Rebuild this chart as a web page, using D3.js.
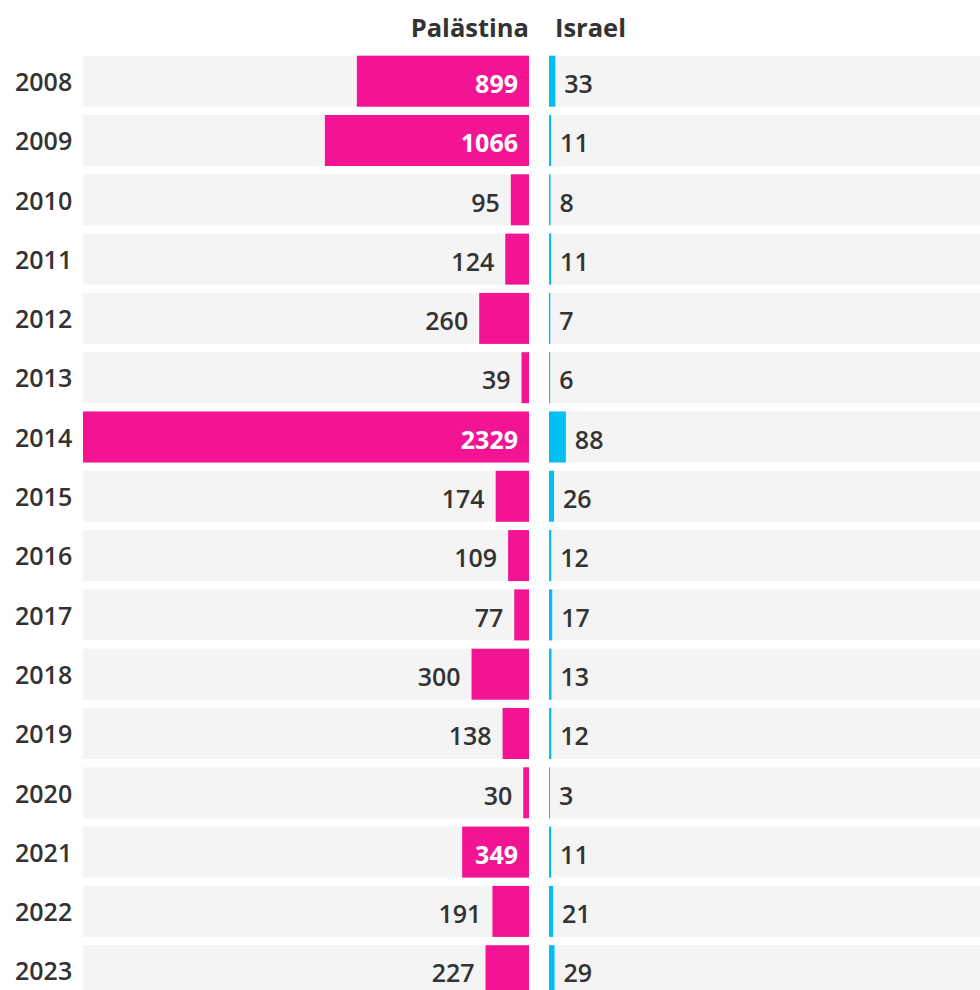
<!DOCTYPE html>
<html>
<head>
<meta charset="utf-8">
<script src="https://cdn.jsdelivr.net/npm/d3@7"></script>
<style>
  body { margin: 0; background: #fff; }
  text { font-family: "Open Sans", sans-serif; }
</style>
</head>
<body>
<div id="chart"></div>
<script>
const years = ["2008", "2009", "2010", "2011", "2012", "2013", "2014", "2015",
  "2016", "2017", "2018", "2019", "2020", "2021", "2022", "2023"];
const palestine = [899, 1066, 95, 124, 260, 39, 2329, 174, 109, 77, 300, 138, 30, 349, 191, 227];
const israel = [33, 11, 8, 11, 7, 6, 88, 26, 12, 17, 13, 12, 3, 11, 21, 29];
const headers = ["Palästina", "Israel"];

const width = 980,
  height = 990,
  centerLeft = 529,
  centerRight = 549,
  leftEdge = 83,
  firstRowY = 55.7,
  step = 59.3,
  band = 51,
  pad = 11,
  fontSize = 25;

const pink = "#f21493",
  blue = "#00bff2",
  textColor = "#333";

const svg = d3.select("#chart")
  .append("svg")
  .attr("width", width)
  .attr("height", height);

// range sized so that step = 59.3 and band = 51
const y = d3.scaleBand()
  .domain(years)
  .range([firstRowY, firstRowY + (years.length - 1) * step + band])
  .paddingInner((step - band) / step)
  .paddingOuter(0);

// same units on both sides
const x = d3.scaleLinear()
  .domain([0, d3.max(palestine)])
  .range([0, centerLeft - leftEdge]);

const rows = years.map((yr, i) => ({ year: yr, pal: palestine[i], isr: israel[i] }));

// grey row backgrounds
svg.append("g")
  .attr("fill", "#f4f4f4")
  .selectAll("rect")
  .data(rows)
  .join("rect")
  .attr("x", leftEdge)
  .attr("y", d => y(d.year))
  .attr("width", centerLeft - leftEdge)
  .attr("height", y.bandwidth());

svg.append("g")
  .attr("fill", "#f4f4f4")
  .selectAll("rect")
  .data(rows)
  .join("rect")
  .attr("x", centerRight)
  .attr("y", d => y(d.year))
  .attr("width", width - centerRight)
  .attr("height", y.bandwidth());

// headers
svg.append("text")
  .attr("x", centerLeft)
  .attr("y", 37)
  .attr("text-anchor", "end")
  .attr("font-size", 25.5)
  .attr("font-weight", 700)
  .attr("fill", textColor)
  .text(headers[0]);

svg.append("text")
  .attr("x", centerRight + 6)
  .attr("y", 37)
  .attr("font-size", 25.5)
  .attr("font-weight", 700)
  .attr("fill", textColor)
  .text(headers[1]);

// year labels
svg.append("g")
  .selectAll("text")
  .data(rows)
  .join("text")
  .attr("x", 15)
  .attr("y", d => y(d.year) + y.bandwidth() / 2)
  .attr("dy", "0.39em")
  .attr("font-size", fontSize)
  .attr("font-weight", 600)
  .attr("fill", textColor)
  .text(d => d.year);

// Palästina bars (growing left)
svg.append("g")
  .attr("fill", pink)
  .selectAll("rect")
  .data(rows)
  .join("rect")
  .attr("x", d => centerLeft - x(d.pal))
  .attr("y", d => y(d.year))
  .attr("width", d => x(d.pal))
  .attr("height", y.bandwidth());

const palLabels = svg.append("g")
  .selectAll("text")
  .data(rows)
  .join("text")
  .attr("y", d => y(d.year) + y.bandwidth() / 2)
  .attr("dy", "0.47em")
  .attr("text-anchor", "end")
  .attr("font-size", fontSize)
  .attr("font-weight", 600)
  .text(d => d.pal);

// label inside the bar when it fits, otherwise outside
palLabels.each(function (d) {
  const w = this.getComputedTextLength();
  const inside = x(d.pal) > w + 2 * pad;
  d3.select(this)
    .attr("x", inside ? centerLeft - pad : centerLeft - x(d.pal) - pad)
    .attr("fill", inside ? "#fff" : textColor)
    .attr("font-weight", inside ? 700 : 600);
});

// Israel bars (growing right)
svg.append("g")
  .attr("fill", blue)
  .selectAll("rect")
  .data(rows)
  .join("rect")
  .attr("x", centerRight)
  .attr("y", d => y(d.year))
  .attr("width", d => Math.max(1, x(d.isr)))
  .attr("height", y.bandwidth());

svg.append("g")
  .selectAll("text")
  .data(rows)
  .join("text")
  .attr("x", d => centerRight + Math.max(1, x(d.isr)) + 9)
  .attr("y", d => y(d.year) + y.bandwidth() / 2)
  .attr("dy", "0.47em")
  .attr("font-size", fontSize)
  .attr("font-weight", 600)
  .attr("fill", textColor)
  .text(d => d.isr);
</script>
</body>
</html>
